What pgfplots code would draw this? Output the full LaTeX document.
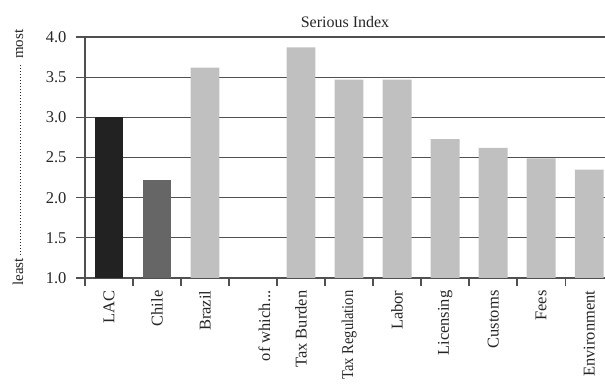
\documentclass[border=0pt]{standalone}
\usepackage{fontspec}
\setmainfont{Liberation Serif}
\usepackage{pgfplots}
\pgfplotsset{compat=1.18}
\definecolor{cLAC}{HTML}{222222}
\definecolor{cChile}{HTML}{666666}
\definecolor{cRest}{HTML}{C0C0C0}
\definecolor{cLine}{HTML}{505050}
\newcommand{\ofwhich}{\smash{\raisebox{-17pt}{of which.\kern0pt.\kern0pt.}}}
\newcommand{\taxreg}{\scalebox{0.88}[1]{Tax Regulation}}
\begin{document}
\begin{tikzpicture}
\begin{axis}[
  name=ax,
  scale only axis,
  width=520pt, height=241pt,
  xmin=-0.5, xmax=10.33,
  ymin=1, ymax=4,
  axis x line*=bottom,
  axis y line*=left,
  axis line style={cLine, line width=1.3pt},
  ytick={1,1.5,2,2.5,3,3.5,4},
  yticklabel style={/pgf/number format/fixed, /pgf/number format/fixed zerofill, /pgf/number format/precision=1, font=\fontsize{16.5}{19}\selectfont, text=black!85, xshift=-6pt},
  /pgf/number format/assume math mode=true,
  xtick={0,1,2,3,4,5,6,7,8,9,10},
  xticklabels={LAC,Chile,Brazil,\ofwhich,Tax Burden,\taxreg,Labor,Licensing,Customs,Fees,Environment},
  xticklabel style={rotate=90, anchor=east, font=\fontsize{16.5}{19}\selectfont, text=black!85},
  minor xtick={-0.5,0.5,1.5,2.5,3.5,4.5,5.5,6.5,7.5,8.5,9.5},
  every major x tick/.append style={draw=none},
  tick align=outside,
  major tick length=9pt,
  minor tick length=8pt,
  tick style={cLine, line width=1.3pt},
  ymajorgrids,
  grid style={cLine, line width=1.3pt},
  title={Serious Index},
  title style={font=\fontsize{16}{18}\selectfont, text=black!85, yshift=0pt},
  ylabel={\hbox to 256pt{least\,\leaders\hbox to 3pt{\hss\rule[0.4ex]{0.7pt}{0.7pt}\hss}\hfill\,most}},
  ylabel style={font=\fontsize{15}{17}\selectfont, text=black!85, at={(axis description cs:0,0.5)}, anchor=center, yshift=67pt},
  ybar, bar width=0.6,
]
\addplot[ybar, bar shift=0pt, fill=cLAC, draw=none] coordinates {(0,3.00)};
\addplot[ybar, bar shift=0pt, fill=cChile, draw=none] coordinates {(1,2.22)};
\addplot[ybar, bar shift=0pt, fill=cRest, draw=none] coordinates {
  (2,3.62) (4,3.87) (5,3.47) (6,3.47) (7,2.73) (8,2.62) (9,2.49) (10,2.35)};
\end{axis}
\pgfresetboundingbox
\path[use as bounding box] ([xshift=-85pt,yshift=-109pt]ax.south west) rectangle ([yshift=37pt]ax.north east);
\end{tikzpicture}
\end{document}
